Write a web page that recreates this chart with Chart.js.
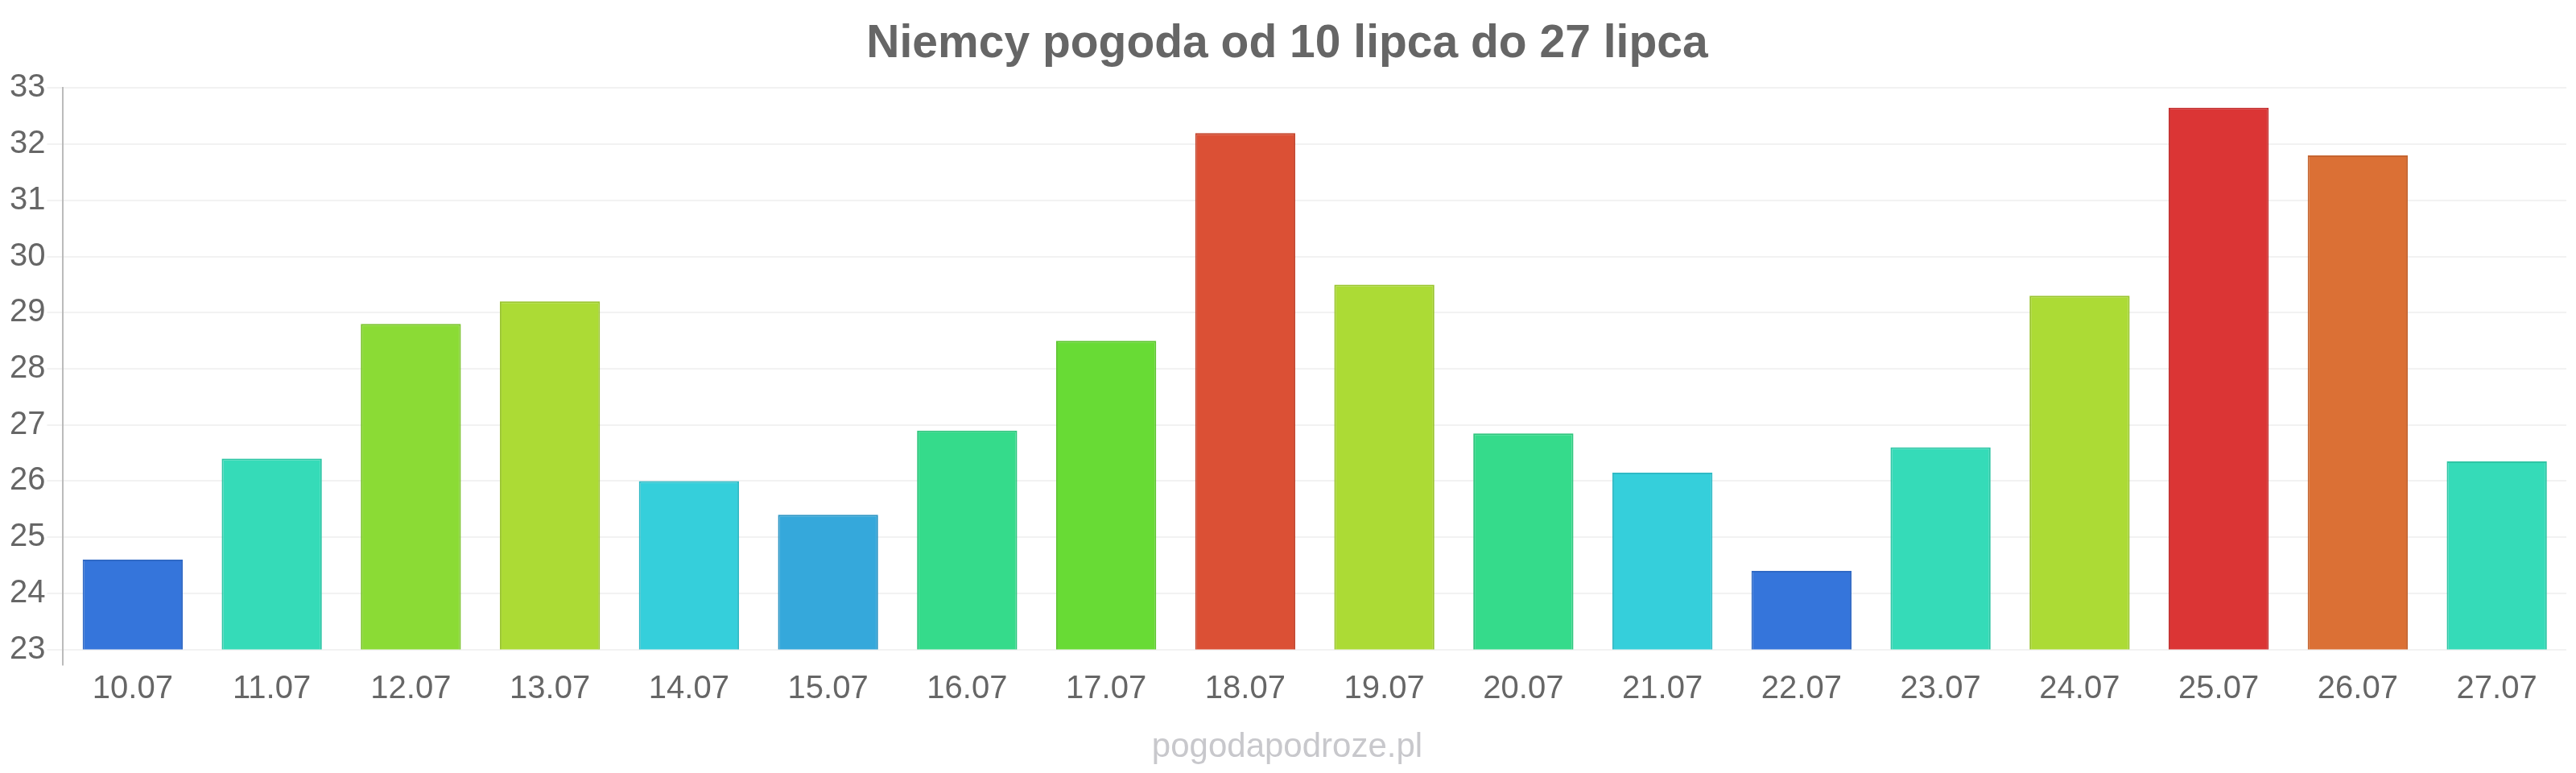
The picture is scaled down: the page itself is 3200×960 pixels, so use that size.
<!DOCTYPE html>
<html>
<head>
<meta charset="utf-8">
<script src="https://cdn.jsdelivr.net/npm/chart.js@4/dist/chart.umd.min.js"></script>
<style>
  html, body { margin: 0; padding: 0; background: #fff; }
  #wrap { width: 3200px; height: 960px; }
</style>
</head>
<body>
<div id="wrap"><canvas id="weatherChart" width="3200" height="960"></canvas></div>
<script>
// Days shown on the x axis
const days = ['10.07', '11.07', '12.07', '13.07', '14.07', '15.07', '16.07', '17.07', '18.07',
  '19.07', '20.07', '21.07', '22.07', '23.07', '24.07', '25.07', '26.07', '27.07'];

// Max temperature per day
const temps = [24.6, 26.4, 28.8, 29.2, 26.0, 25.4, 26.9, 28.5, 32.2,
  29.5, 26.85, 26.15, 24.4, 26.6, 29.3, 32.65, 31.8, 26.35];

// Bar colours per day
const barColors = ['#3575db', '#35dbb8', '#8bdb35', '#acdb35', '#35cfdb', '#35a8db', '#35db8b', '#68db35', '#db5035',
  '#acdb35', '#35db8b', '#35cfdb', '#3575db', '#35dbb8', '#acdb35', '#db3535', '#db7035', '#35dbb8'];
const borderColors = ['#2f69c5', '#2fc5a5', '#7dc52f', '#9ac52f', '#2fbac5', '#2f97c5', '#2fc57d', '#5dc52f', '#c5472f',
  '#9ac52f', '#2fc57d', '#2fbac5', '#2f69c5', '#2fc5a5', '#9ac52f', '#c52f2f', '#c5642f', '#2fc5a5'];

const yTicks = [23, 24, 25, 26, 27, 28, 29, 30, 31, 32, 33];

const fontFamily = '"Liberation Sans", Arial, sans-serif';

const config = {
  type: 'bar',
  data: {
    labels: days,
    datasets: [{
      label: 'Temperatura',
      data: temps,
      backgroundColor: barColors,
      borderColor: borderColors,
      borderWidth: 2,
      barPercentage: 0.9,
      categoryPercentage: 0.8
    }]
  },
  options: {
    responsive: false,
    devicePixelRatio: 1,
    animation: false,
    layout: { padding: { left: 10, right: 12, top: 0, bottom: 0 } },
    plugins: {
      legend: { display: false },
      tooltip: { enabled: false },
      title: {
        display: true,
        text: 'Niemcy pogoda od 10 lipca do 27 lipca',
        color: '#666666',
        font: { family: fontFamily, size: 57, weight: 'bold' },
        padding: { top: 21, bottom: 20 }
      },
      subtitle: {
        display: true,
        position: 'bottom',
        text: 'pogodapodroze.pl',
        color: '#c8c8cc',
        font: { family: fontFamily, size: 42, weight: 'normal' },
        padding: { top: 19, bottom: 6 }
      }
    },
    scales: {
      x: {
        grid: {
          drawOnChartArea: false,
          tickLength: 20,
          lineWidth: 2,
          color: (ctx) => ctx.index === 0 ? '#bbbbbb' : 'rgba(0,0,0,0)'
        },
        border: { display: false },
        ticks: {
          color: '#666666',
          padding: 5,
          font: { family: fontFamily, size: 40 }
        }
      },
      y: {
        min: 23,
        max: 33,
        afterBuildTicks: (axis) => { axis.ticks = yTicks.map(v => ({ value: v })); },
        grid: {
          color: '#f2f2f2',
          lineWidth: 2,
          tickLength: 20
        },
        border: { display: true, color: '#bbbbbb', width: 2 },
        ticks: {
          color: '#666666',
          padding: 2,
          font: { family: fontFamily, size: 40 }
        }
      }
    }
  }
};

const weatherChart = new Chart(document.getElementById('weatherChart'), config);
</script>
</body>
</html>
